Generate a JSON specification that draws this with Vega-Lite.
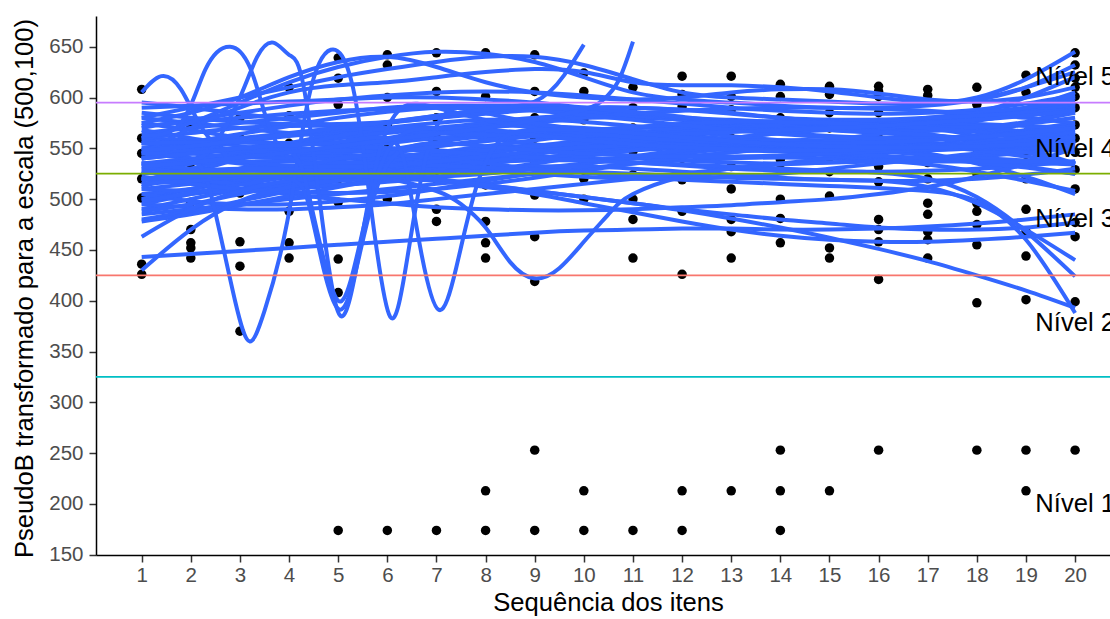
{
"$schema": "https://vega.github.io/schema/vega-lite/v6.json",
"width": 1014,
"height": 539,
"autosize": "none",
"padding": {"left": 96, "top": 16, "right": 0, "bottom": 64},
"background": "white",
"config": {"view": {"stroke": null}, "font": "Liberation Sans", "axis": {"grid": false}},
"datasets": {
"pts": [
{"x":1,"y":608},{"x":1,"y":501},{"x":1,"y":436},{"x":1,"y":426},{"x":1,"y":520},{"x":1,"y":545},{"x":1,"y":560},
{"x":2,"y":571},{"x":2,"y":497},{"x":2,"y":470},{"x":2,"y":457},{"x":2,"y":452},{"x":2,"y":442},{"x":2,"y":530},{"x":2,"y":550},
{"x":3,"y":506},{"x":3,"y":458},{"x":3,"y":434},{"x":3,"y":370},{"x":3,"y":540},{"x":3,"y":560},{"x":3,"y":580},
{"x":4,"y":610},{"x":4,"y":582},{"x":4,"y":488},{"x":4,"y":457},{"x":4,"y":442},{"x":4,"y":530},{"x":4,"y":555},
{"x":5,"y":639},{"x":5,"y":619},{"x":5,"y":593},{"x":5,"y":544},{"x":5,"y":497},{"x":5,"y":441},{"x":5,"y":408},{"x":5,"y":174},{"x":5,"y":520},{"x":5,"y":570},
{"x":6,"y":642},{"x":6,"y":632},{"x":6,"y":573},{"x":6,"y":174},{"x":6,"y":500},{"x":6,"y":530},{"x":6,"y":550},{"x":6,"y":600},
{"x":7,"y":644},{"x":7,"y":606},{"x":7,"y":580},{"x":7,"y":546},{"x":7,"y":490},{"x":7,"y":478},{"x":7,"y":174},{"x":7,"y":520},{"x":7,"y":560},
{"x":8,"y":644},{"x":8,"y":601},{"x":8,"y":571},{"x":8,"y":534},{"x":8,"y":514},{"x":8,"y":478},{"x":8,"y":457},{"x":8,"y":442},{"x":8,"y":213},{"x":8,"y":174},
{"x":9,"y":642},{"x":9,"y":606},{"x":9,"y":537},{"x":9,"y":504},{"x":9,"y":463},{"x":9,"y":419},{"x":9,"y":253},{"x":9,"y":174},{"x":9,"y":560},{"x":9,"y":580},
{"x":10,"y":624},{"x":10,"y":606},{"x":10,"y":578},{"x":10,"y":562},{"x":10,"y":541},{"x":10,"y":213},{"x":10,"y":174},{"x":10,"y":520},{"x":10,"y":500},
{"x":11,"y":610},{"x":11,"y":547},{"x":11,"y":524},{"x":11,"y":500},{"x":11,"y":480},{"x":11,"y":442},{"x":11,"y":174},{"x":11,"y":570},{"x":11,"y":590},
{"x":12,"y":621},{"x":12,"y":603},{"x":12,"y":591},{"x":12,"y":557},{"x":12,"y":519},{"x":12,"y":488},{"x":12,"y":426},{"x":12,"y":213},{"x":12,"y":174},{"x":12,"y":540},{"x":12,"y":570},
{"x":13,"y":621},{"x":13,"y":601},{"x":13,"y":588},{"x":13,"y":532},{"x":13,"y":480},{"x":13,"y":468},{"x":13,"y":442},{"x":13,"y":213},{"x":13,"y":510},{"x":13,"y":560},
{"x":14,"y":613},{"x":14,"y":601},{"x":14,"y":552},{"x":14,"y":539},{"x":14,"y":529},{"x":14,"y":500},{"x":14,"y":481},{"x":14,"y":457},{"x":14,"y":253},{"x":14,"y":213},{"x":14,"y":174},{"x":14,"y":580},
{"x":15,"y":611},{"x":15,"y":607},{"x":15,"y":603},{"x":15,"y":541},{"x":15,"y":527},{"x":15,"y":503},{"x":15,"y":452},{"x":15,"y":442},{"x":15,"y":213},{"x":15,"y":570},{"x":15,"y":585},
{"x":16,"y":611},{"x":16,"y":606},{"x":16,"y":601},{"x":16,"y":532},{"x":16,"y":517},{"x":16,"y":480},{"x":16,"y":470},{"x":16,"y":458},{"x":16,"y":421},{"x":16,"y":253},{"x":16,"y":560},{"x":16,"y":585},
{"x":17,"y":608},{"x":17,"y":602},{"x":17,"y":596},{"x":17,"y":536},{"x":17,"y":496},{"x":17,"y":485},{"x":17,"y":468},{"x":17,"y":460},{"x":17,"y":442},{"x":17,"y":520},{"x":17,"y":570},
{"x":18,"y":610},{"x":18,"y":593},{"x":18,"y":580},{"x":18,"y":544},{"x":18,"y":496},{"x":18,"y":488},{"x":18,"y":475},{"x":18,"y":455},{"x":18,"y":398},{"x":18,"y":253},{"x":18,"y":525},{"x":18,"y":560},
{"x":19,"y":622},{"x":19,"y":605},{"x":19,"y":565},{"x":19,"y":544},{"x":19,"y":490},{"x":19,"y":468},{"x":19,"y":444},{"x":19,"y":401},{"x":19,"y":253},{"x":19,"y":213},{"x":19,"y":520},{"x":19,"y":585},
{"x":20,"y":644},{"x":20,"y":632},{"x":20,"y":619},{"x":20,"y":610},{"x":20,"y":601},{"x":20,"y":590},{"x":20,"y":573},{"x":20,"y":546},{"x":20,"y":529},{"x":20,"y":477},{"x":20,"y":463},{"x":20,"y":399},{"x":20,"y":253},{"x":20,"y":560},{"x":20,"y":510}
],
"lines": [
{"g":"B1","x":1,"y":500},{"g":"B1","x":2,"y":510},{"g":"B1","x":3,"y":520},{"g":"B1","x":4,"y":530},{"g":"B1","x":5,"y":535},{"g":"B1","x":6,"y":540},{"g":"B1","x":7,"y":545},{"g":"B1","x":8,"y":548},{"g":"B1","x":9,"y":550},{"g":"B1","x":10,"y":552},{"g":"B1","x":11,"y":553},{"g":"B1","x":12,"y":553},{"g":"B1","x":13,"y":552},{"g":"B1","x":14,"y":550},{"g":"B1","x":15,"y":548},{"g":"B1","x":16,"y":547},{"g":"B1","x":17,"y":548},{"g":"B1","x":18,"y":552},{"g":"B1","x":19,"y":558},{"g":"B1","x":20,"y":565},
{"g":"B2","x":1,"y":520},{"g":"B2","x":2,"y":525},{"g":"B2","x":3,"y":530},{"g":"B2","x":4,"y":540},{"g":"B2","x":5,"y":548},{"g":"B2","x":6,"y":555},{"g":"B2","x":7,"y":560},{"g":"B2","x":8,"y":562},{"g":"B2","x":9,"y":563},{"g":"B2","x":10,"y":562},{"g":"B2","x":11,"y":560},{"g":"B2","x":12,"y":558},{"g":"B2","x":13,"y":556},{"g":"B2","x":14,"y":555},{"g":"B2","x":15,"y":555},{"g":"B2","x":16,"y":556},{"g":"B2","x":17,"y":558},{"g":"B2","x":18,"y":562},{"g":"B2","x":19,"y":568},{"g":"B2","x":20,"y":575},
{"g":"B3","x":1,"y":540},{"g":"B3","x":2,"y":545},{"g":"B3","x":3,"y":550},{"g":"B3","x":4,"y":555},{"g":"B3","x":5,"y":560},{"g":"B3","x":6,"y":565},{"g":"B3","x":7,"y":570},{"g":"B3","x":8,"y":575},{"g":"B3","x":9,"y":578},{"g":"B3","x":10,"y":580},{"g":"B3","x":11,"y":580},{"g":"B3","x":12,"y":578},{"g":"B3","x":13,"y":575},{"g":"B3","x":14,"y":572},{"g":"B3","x":15,"y":570},{"g":"B3","x":16,"y":570},{"g":"B3","x":17,"y":572},{"g":"B3","x":18,"y":578},{"g":"B3","x":19,"y":588},{"g":"B3","x":20,"y":600},
{"g":"B4","x":1,"y":560},{"g":"B4","x":2,"y":558},{"g":"B4","x":3,"y":556},{"g":"B4","x":4,"y":555},{"g":"B4","x":5,"y":556},{"g":"B4","x":6,"y":558},{"g":"B4","x":7,"y":560},{"g":"B4","x":8,"y":562},{"g":"B4","x":9,"y":565},{"g":"B4","x":10,"y":568},{"g":"B4","x":11,"y":570},{"g":"B4","x":12,"y":572},{"g":"B4","x":13,"y":573},{"g":"B4","x":14,"y":574},{"g":"B4","x":15,"y":575},{"g":"B4","x":16,"y":576},{"g":"B4","x":17,"y":578},{"g":"B4","x":18,"y":582},{"g":"B4","x":19,"y":590},{"g":"B4","x":20,"y":605},
{"g":"B5","x":1,"y":580},{"g":"B5","x":2,"y":575},{"g":"B5","x":3,"y":570},{"g":"B5","x":4,"y":565},{"g":"B5","x":5,"y":562},{"g":"B5","x":6,"y":560},{"g":"B5","x":7,"y":560},{"g":"B5","x":8,"y":562},{"g":"B5","x":9,"y":565},{"g":"B5","x":10,"y":568},{"g":"B5","x":11,"y":570},{"g":"B5","x":12,"y":570},{"g":"B5","x":13,"y":570},{"g":"B5","x":14,"y":570},{"g":"B5","x":15,"y":570},{"g":"B5","x":16,"y":572},{"g":"B5","x":17,"y":576},{"g":"B5","x":18,"y":585},{"g":"B5","x":19,"y":600},{"g":"B5","x":20,"y":620},
{"g":"B6","x":1,"y":490},{"g":"B6","x":2,"y":500},{"g":"B6","x":3,"y":510},{"g":"B6","x":4,"y":518},{"g":"B6","x":5,"y":525},{"g":"B6","x":6,"y":530},{"g":"B6","x":7,"y":535},{"g":"B6","x":8,"y":540},{"g":"B6","x":9,"y":545},{"g":"B6","x":10,"y":548},{"g":"B6","x":11,"y":550},{"g":"B6","x":12,"y":552},{"g":"B6","x":13,"y":553},{"g":"B6","x":14,"y":553},{"g":"B6","x":15,"y":552},{"g":"B6","x":16,"y":550},{"g":"B6","x":17,"y":545},{"g":"B6","x":18,"y":535},{"g":"B6","x":19,"y":522},{"g":"B6","x":20,"y":505},
{"g":"B7","x":1,"y":510},{"g":"B7","x":2,"y":515},{"g":"B7","x":3,"y":520},{"g":"B7","x":4,"y":525},{"g":"B7","x":5,"y":528},{"g":"B7","x":6,"y":530},{"g":"B7","x":7,"y":530},{"g":"B7","x":8,"y":528},{"g":"B7","x":9,"y":525},{"g":"B7","x":10,"y":522},{"g":"B7","x":11,"y":520},{"g":"B7","x":12,"y":520},{"g":"B7","x":13,"y":522},{"g":"B7","x":14,"y":525},{"g":"B7","x":15,"y":530},{"g":"B7","x":16,"y":535},{"g":"B7","x":17,"y":540},{"g":"B7","x":18,"y":545},{"g":"B7","x":19,"y":548},{"g":"B7","x":20,"y":550},
{"g":"B8","x":1,"y":530},{"g":"B8","x":2,"y":528},{"g":"B8","x":3,"y":525},{"g":"B8","x":4,"y":522},{"g":"B8","x":5,"y":520},{"g":"B8","x":6,"y":520},{"g":"B8","x":7,"y":522},{"g":"B8","x":8,"y":525},{"g":"B8","x":9,"y":530},{"g":"B8","x":10,"y":535},{"g":"B8","x":11,"y":540},{"g":"B8","x":12,"y":545},{"g":"B8","x":13,"y":550},{"g":"B8","x":14,"y":555},{"g":"B8","x":15,"y":558},{"g":"B8","x":16,"y":560},{"g":"B8","x":17,"y":560},{"g":"B8","x":18,"y":558},{"g":"B8","x":19,"y":554},{"g":"B8","x":20,"y":548},
{"g":"B9","x":1,"y":550},{"g":"B9","x":2,"y":555},{"g":"B9","x":3,"y":560},{"g":"B9","x":4,"y":565},{"g":"B9","x":5,"y":570},{"g":"B9","x":6,"y":575},{"g":"B9","x":7,"y":580},{"g":"B9","x":8,"y":585},{"g":"B9","x":9,"y":588},{"g":"B9","x":10,"y":590},{"g":"B9","x":11,"y":590},{"g":"B9","x":12,"y":588},{"g":"B9","x":13,"y":585},{"g":"B9","x":14,"y":580},{"g":"B9","x":15,"y":578},{"g":"B9","x":16,"y":576},{"g":"B9","x":17,"y":575},{"g":"B9","x":18,"y":574},{"g":"B9","x":19,"y":572},{"g":"B9","x":20,"y":570},
{"g":"B10","x":1,"y":570},{"g":"B10","x":2,"y":578},{"g":"B10","x":3,"y":585},{"g":"B10","x":4,"y":592},{"g":"B10","x":5,"y":598},{"g":"B10","x":6,"y":602},{"g":"B10","x":7,"y":605},{"g":"B10","x":8,"y":606},{"g":"B10","x":9,"y":605},{"g":"B10","x":10,"y":602},{"g":"B10","x":11,"y":598},{"g":"B10","x":12,"y":594},{"g":"B10","x":13,"y":590},{"g":"B10","x":14,"y":587},{"g":"B10","x":15,"y":585},{"g":"B10","x":16,"y":584},{"g":"B10","x":17,"y":585},{"g":"B10","x":18,"y":588},{"g":"B10","x":19,"y":594},{"g":"B10","x":20,"y":602},
{"g":"B11","x":1,"y":485},{"g":"B11","x":2,"y":490},{"g":"B11","x":3,"y":495},{"g":"B11","x":4,"y":500},{"g":"B11","x":5,"y":505},{"g":"B11","x":6,"y":510},{"g":"B11","x":7,"y":515},{"g":"B11","x":8,"y":520},{"g":"B11","x":9,"y":525},{"g":"B11","x":10,"y":530},{"g":"B11","x":11,"y":535},{"g":"B11","x":12,"y":538},{"g":"B11","x":13,"y":540},{"g":"B11","x":14,"y":541},{"g":"B11","x":15,"y":540},{"g":"B11","x":16,"y":538},{"g":"B11","x":17,"y":534},{"g":"B11","x":18,"y":527},{"g":"B11","x":19,"y":518},{"g":"B11","x":20,"y":508},
{"g":"B12","x":1,"y":495},{"g":"B12","x":2,"y":492},{"g":"B12","x":3,"y":490},{"g":"B12","x":4,"y":490},{"g":"B12","x":5,"y":492},{"g":"B12","x":6,"y":495},{"g":"B12","x":7,"y":500},{"g":"B12","x":8,"y":505},{"g":"B12","x":9,"y":510},{"g":"B12","x":10,"y":515},{"g":"B12","x":11,"y":520},{"g":"B12","x":12,"y":525},{"g":"B12","x":13,"y":530},{"g":"B12","x":14,"y":535},{"g":"B12","x":15,"y":540},{"g":"B12","x":16,"y":545},{"g":"B12","x":17,"y":552},{"g":"B12","x":18,"y":562},{"g":"B12","x":19,"y":575},{"g":"B12","x":20,"y":590},
{"g":"B13","x":1,"y":505},{"g":"B13","x":2,"y":510},{"g":"B13","x":3,"y":518},{"g":"B13","x":4,"y":528},{"g":"B13","x":5,"y":538},{"g":"B13","x":6,"y":548},{"g":"B13","x":7,"y":556},{"g":"B13","x":8,"y":562},{"g":"B13","x":9,"y":565},{"g":"B13","x":10,"y":565},{"g":"B13","x":11,"y":562},{"g":"B13","x":12,"y":558},{"g":"B13","x":13,"y":552},{"g":"B13","x":14,"y":547},{"g":"B13","x":15,"y":543},{"g":"B13","x":16,"y":540},{"g":"B13","x":17,"y":540},{"g":"B13","x":18,"y":542},{"g":"B13","x":19,"y":546},{"g":"B13","x":20,"y":552},
{"g":"B14","x":1,"y":525},{"g":"B14","x":2,"y":535},{"g":"B14","x":3,"y":545},{"g":"B14","x":4,"y":555},{"g":"B14","x":5,"y":565},{"g":"B14","x":6,"y":575},{"g":"B14","x":7,"y":582},{"g":"B14","x":8,"y":588},{"g":"B14","x":9,"y":590},{"g":"B14","x":10,"y":588},{"g":"B14","x":11,"y":584},{"g":"B14","x":12,"y":578},{"g":"B14","x":13,"y":572},{"g":"B14","x":14,"y":566},{"g":"B14","x":15,"y":562},{"g":"B14","x":16,"y":560},{"g":"B14","x":17,"y":560},{"g":"B14","x":18,"y":562},{"g":"B14","x":19,"y":565},{"g":"B14","x":20,"y":568},
{"g":"B15","x":1,"y":545},{"g":"B15","x":2,"y":540},{"g":"B15","x":3,"y":535},{"g":"B15","x":4,"y":530},{"g":"B15","x":5,"y":528},{"g":"B15","x":6,"y":528},{"g":"B15","x":7,"y":530},{"g":"B15","x":8,"y":535},{"g":"B15","x":9,"y":540},{"g":"B15","x":10,"y":545},{"g":"B15","x":11,"y":548},{"g":"B15","x":12,"y":550},{"g":"B15","x":13,"y":550},{"g":"B15","x":14,"y":548},{"g":"B15","x":15,"y":545},{"g":"B15","x":16,"y":542},{"g":"B15","x":17,"y":540},{"g":"B15","x":18,"y":538},{"g":"B15","x":19,"y":536},{"g":"B15","x":20,"y":534},
{"g":"B16","x":1,"y":565},{"g":"B16","x":2,"y":570},{"g":"B16","x":3,"y":575},{"g":"B16","x":4,"y":580},{"g":"B16","x":5,"y":585},{"g":"B16","x":6,"y":590},{"g":"B16","x":7,"y":592},{"g":"B16","x":8,"y":592},{"g":"B16","x":9,"y":590},{"g":"B16","x":10,"y":586},{"g":"B16","x":11,"y":582},{"g":"B16","x":12,"y":578},{"g":"B16","x":13,"y":575},{"g":"B16","x":14,"y":573},{"g":"B16","x":15,"y":572},{"g":"B16","x":16,"y":572},{"g":"B16","x":17,"y":574},{"g":"B16","x":18,"y":578},{"g":"B16","x":19,"y":584},{"g":"B16","x":20,"y":592},
{"g":"B17","x":1,"y":575},{"g":"B17","x":2,"y":568},{"g":"B17","x":3,"y":560},{"g":"B17","x":4,"y":552},{"g":"B17","x":5,"y":545},{"g":"B17","x":6,"y":540},{"g":"B17","x":7,"y":538},{"g":"B17","x":8,"y":538},{"g":"B17","x":9,"y":540},{"g":"B17","x":10,"y":545},{"g":"B17","x":11,"y":550},{"g":"B17","x":12,"y":555},{"g":"B17","x":13,"y":560},{"g":"B17","x":14,"y":565},{"g":"B17","x":15,"y":568},{"g":"B17","x":16,"y":570},{"g":"B17","x":17,"y":570},{"g":"B17","x":18,"y":568},{"g":"B17","x":19,"y":565},{"g":"B17","x":20,"y":560},
{"g":"B18","x":1,"y":515},{"g":"B18","x":2,"y":522},{"g":"B18","x":3,"y":530},{"g":"B18","x":4,"y":540},{"g":"B18","x":5,"y":550},{"g":"B18","x":6,"y":560},{"g":"B18","x":7,"y":568},{"g":"B18","x":8,"y":575},{"g":"B18","x":9,"y":580},{"g":"B18","x":10,"y":582},{"g":"B18","x":11,"y":582},{"g":"B18","x":12,"y":580},{"g":"B18","x":13,"y":576},{"g":"B18","x":14,"y":572},{"g":"B18","x":15,"y":568},{"g":"B18","x":16,"y":565},{"g":"B18","x":17,"y":562},{"g":"B18","x":18,"y":560},{"g":"B18","x":19,"y":558},{"g":"B18","x":20,"y":556},
{"g":"B19","x":1,"y":535},{"g":"B19","x":2,"y":540},{"g":"B19","x":3,"y":545},{"g":"B19","x":4,"y":548},{"g":"B19","x":5,"y":550},{"g":"B19","x":6,"y":550},{"g":"B19","x":7,"y":548},{"g":"B19","x":8,"y":545},{"g":"B19","x":9,"y":542},{"g":"B19","x":10,"y":540},{"g":"B19","x":11,"y":540},{"g":"B19","x":12,"y":542},{"g":"B19","x":13,"y":546},{"g":"B19","x":14,"y":552},{"g":"B19","x":15,"y":558},{"g":"B19","x":16,"y":564},{"g":"B19","x":17,"y":570},{"g":"B19","x":18,"y":577},{"g":"B19","x":19,"y":585},{"g":"B19","x":20,"y":595},
{"g":"B20","x":1,"y":555},{"g":"B20","x":2,"y":550},{"g":"B20","x":3,"y":545},{"g":"B20","x":4,"y":542},{"g":"B20","x":5,"y":540},{"g":"B20","x":6,"y":540},{"g":"B20","x":7,"y":542},{"g":"B20","x":8,"y":546},{"g":"B20","x":9,"y":552},{"g":"B20","x":10,"y":558},{"g":"B20","x":11,"y":564},{"g":"B20","x":12,"y":570},{"g":"B20","x":13,"y":574},{"g":"B20","x":14,"y":577},{"g":"B20","x":15,"y":578},{"g":"B20","x":16,"y":578},{"g":"B20","x":17,"y":576},{"g":"B20","x":18,"y":572},{"g":"B20","x":19,"y":566},{"g":"B20","x":20,"y":558},
{"g":"B21","x":1,"y":480},{"g":"B21","x":2,"y":488},{"g":"B21","x":3,"y":498},{"g":"B21","x":4,"y":508},{"g":"B21","x":5,"y":518},{"g":"B21","x":6,"y":526},{"g":"B21","x":7,"y":532},{"g":"B21","x":8,"y":536},{"g":"B21","x":9,"y":538},{"g":"B21","x":10,"y":538},{"g":"B21","x":11,"y":536},{"g":"B21","x":12,"y":533},{"g":"B21","x":13,"y":530},{"g":"B21","x":14,"y":528},{"g":"B21","x":15,"y":527},{"g":"B21","x":16,"y":527},{"g":"B21","x":17,"y":528},{"g":"B21","x":18,"y":530},{"g":"B21","x":19,"y":533},{"g":"B21","x":20,"y":537},
{"g":"B22","x":1,"y":590},{"g":"B22","x":2,"y":592},{"g":"B22","x":3,"y":594},{"g":"B22","x":4,"y":596},{"g":"B22","x":5,"y":598},{"g":"B22","x":6,"y":600},{"g":"B22","x":7,"y":600},{"g":"B22","x":8,"y":598},{"g":"B22","x":9,"y":595},{"g":"B22","x":10,"y":590},{"g":"B22","x":11,"y":585},{"g":"B22","x":12,"y":580},{"g":"B22","x":13,"y":578},{"g":"B22","x":14,"y":576},{"g":"B22","x":15,"y":575},{"g":"B22","x":16,"y":575},{"g":"B22","x":17,"y":576},{"g":"B22","x":18,"y":580},{"g":"B22","x":19,"y":586},{"g":"B22","x":20,"y":594},
{"g":"B23","x":1,"y":500},{"g":"B23","x":2,"y":505},{"g":"B23","x":3,"y":510},{"g":"B23","x":4,"y":515},{"g":"B23","x":5,"y":520},{"g":"B23","x":6,"y":525},{"g":"B23","x":7,"y":530},{"g":"B23","x":8,"y":535},{"g":"B23","x":9,"y":540},{"g":"B23","x":10,"y":545},{"g":"B23","x":11,"y":550},{"g":"B23","x":12,"y":555},{"g":"B23","x":13,"y":560},{"g":"B23","x":14,"y":565},{"g":"B23","x":15,"y":570},{"g":"B23","x":16,"y":575},{"g":"B23","x":17,"y":580},{"g":"B23","x":18,"y":585},{"g":"B23","x":19,"y":590},{"g":"B23","x":20,"y":596},
{"g":"B24","x":1,"y":520},{"g":"B24","x":2,"y":515},{"g":"B24","x":3,"y":510},{"g":"B24","x":4,"y":505},{"g":"B24","x":5,"y":500},{"g":"B24","x":6,"y":496},{"g":"B24","x":7,"y":492},{"g":"B24","x":8,"y":490},{"g":"B24","x":9,"y":489},{"g":"B24","x":10,"y":489},{"g":"B24","x":11,"y":490},{"g":"B24","x":12,"y":492},{"g":"B24","x":13,"y":494},{"g":"B24","x":14,"y":497},{"g":"B24","x":15,"y":500},{"g":"B24","x":16,"y":505},{"g":"B24","x":17,"y":512},{"g":"B24","x":18,"y":522},{"g":"B24","x":19,"y":535},{"g":"B24","x":20,"y":550},
{"g":"B25","x":1,"y":540},{"g":"B25","x":2,"y":548},{"g":"B25","x":3,"y":556},{"g":"B25","x":4,"y":562},{"g":"B25","x":5,"y":566},{"g":"B25","x":6,"y":568},{"g":"B25","x":7,"y":568},{"g":"B25","x":8,"y":566},{"g":"B25","x":9,"y":562},{"g":"B25","x":10,"y":558},{"g":"B25","x":11,"y":554},{"g":"B25","x":12,"y":550},{"g":"B25","x":13,"y":548},{"g":"B25","x":14,"y":547},{"g":"B25","x":15,"y":547},{"g":"B25","x":16,"y":548},{"g":"B25","x":17,"y":550},{"g":"B25","x":18,"y":552},{"g":"B25","x":19,"y":554},{"g":"B25","x":20,"y":556},
{"g":"B26","x":1,"y":560},{"g":"B26","x":2,"y":565},{"g":"B26","x":3,"y":570},{"g":"B26","x":4,"y":572},{"g":"B26","x":5,"y":572},{"g":"B26","x":6,"y":570},{"g":"B26","x":7,"y":566},{"g":"B26","x":8,"y":560},{"g":"B26","x":9,"y":554},{"g":"B26","x":10,"y":548},{"g":"B26","x":11,"y":542},{"g":"B26","x":12,"y":538},{"g":"B26","x":13,"y":536},{"g":"B26","x":14,"y":535},{"g":"B26","x":15,"y":536},{"g":"B26","x":16,"y":538},{"g":"B26","x":17,"y":540},{"g":"B26","x":18,"y":540},{"g":"B26","x":19,"y":538},{"g":"B26","x":20,"y":534},
{"g":"B27","x":1,"y":495},{"g":"B27","x":2,"y":505},{"g":"B27","x":3,"y":515},{"g":"B27","x":4,"y":525},{"g":"B27","x":5,"y":533},{"g":"B27","x":6,"y":540},{"g":"B27","x":7,"y":546},{"g":"B27","x":8,"y":550},{"g":"B27","x":9,"y":553},{"g":"B27","x":10,"y":555},{"g":"B27","x":11,"y":556},{"g":"B27","x":12,"y":556},{"g":"B27","x":13,"y":555},{"g":"B27","x":14,"y":553},{"g":"B27","x":15,"y":550},{"g":"B27","x":16,"y":547},{"g":"B27","x":17,"y":543},{"g":"B27","x":18,"y":538},{"g":"B27","x":19,"y":532},{"g":"B27","x":20,"y":525},
{"g":"B28","x":1,"y":510},{"g":"B28","x":2,"y":508},{"g":"B28","x":3,"y":508},{"g":"B28","x":4,"y":510},{"g":"B28","x":5,"y":514},{"g":"B28","x":6,"y":520},{"g":"B28","x":7,"y":528},{"g":"B28","x":8,"y":536},{"g":"B28","x":9,"y":544},{"g":"B28","x":10,"y":552},{"g":"B28","x":11,"y":560},{"g":"B28","x":12,"y":566},{"g":"B28","x":13,"y":571},{"g":"B28","x":14,"y":574},{"g":"B28","x":15,"y":575},{"g":"B28","x":16,"y":574},{"g":"B28","x":17,"y":570},{"g":"B28","x":18,"y":562},{"g":"B28","x":19,"y":550},{"g":"B28","x":20,"y":535},
{"g":"B29","x":1,"y":530},{"g":"B29","x":2,"y":535},{"g":"B29","x":3,"y":540},{"g":"B29","x":4,"y":546},{"g":"B29","x":5,"y":552},{"g":"B29","x":6,"y":558},{"g":"B29","x":7,"y":564},{"g":"B29","x":8,"y":570},{"g":"B29","x":9,"y":575},{"g":"B29","x":10,"y":580},{"g":"B29","x":11,"y":584},{"g":"B29","x":12,"y":587},{"g":"B29","x":13,"y":589},{"g":"B29","x":14,"y":590},{"g":"B29","x":15,"y":590},{"g":"B29","x":16,"y":589},{"g":"B29","x":17,"y":587},{"g":"B29","x":18,"y":584},{"g":"B29","x":19,"y":580},{"g":"B29","x":20,"y":575},
{"g":"B30","x":1,"y":550},{"g":"B30","x":2,"y":545},{"g":"B30","x":3,"y":542},{"g":"B30","x":4,"y":540},{"g":"B30","x":5,"y":540},{"g":"B30","x":6,"y":542},{"g":"B30","x":7,"y":546},{"g":"B30","x":8,"y":552},{"g":"B30","x":9,"y":558},{"g":"B30","x":10,"y":564},{"g":"B30","x":11,"y":570},{"g":"B30","x":12,"y":574},{"g":"B30","x":13,"y":576},{"g":"B30","x":14,"y":576},{"g":"B30","x":15,"y":574},{"g":"B30","x":16,"y":570},{"g":"B30","x":17,"y":564},{"g":"B30","x":18,"y":556},{"g":"B30","x":19,"y":546},{"g":"B30","x":20,"y":535},
{"g":"C1","x":1,"y":488},{"g":"C1","x":2,"y":495},{"g":"C1","x":3,"y":505},{"g":"C1","x":4,"y":515},{"g":"C1","x":5,"y":525},{"g":"C1","x":6,"y":535},{"g":"C1","x":7,"y":542},{"g":"C1","x":8,"y":548},{"g":"C1","x":9,"y":552},{"g":"C1","x":10,"y":554},{"g":"C1","x":11,"y":555},{"g":"C1","x":12,"y":554},{"g":"C1","x":13,"y":552},{"g":"C1","x":14,"y":549},{"g":"C1","x":15,"y":546},{"g":"C1","x":16,"y":543},{"g":"C1","x":17,"y":540},{"g":"C1","x":18,"y":536},{"g":"C1","x":19,"y":531},{"g":"C1","x":20,"y":525},
{"g":"C2","x":1,"y":505},{"g":"C2","x":2,"y":498},{"g":"C2","x":3,"y":495},{"g":"C2","x":4,"y":495},{"g":"C2","x":5,"y":498},{"g":"C2","x":6,"y":503},{"g":"C2","x":7,"y":510},{"g":"C2","x":8,"y":518},{"g":"C2","x":9,"y":526},{"g":"C2","x":10,"y":534},{"g":"C2","x":11,"y":542},{"g":"C2","x":12,"y":548},{"g":"C2","x":13,"y":552},{"g":"C2","x":14,"y":555},{"g":"C2","x":15,"y":556},{"g":"C2","x":16,"y":556},{"g":"C2","x":17,"y":555},{"g":"C2","x":18,"y":553},{"g":"C2","x":19,"y":550},{"g":"C2","x":20,"y":546},
{"g":"C3","x":1,"y":518},{"g":"C3","x":2,"y":530},{"g":"C3","x":3,"y":542},{"g":"C3","x":4,"y":552},{"g":"C3","x":5,"y":560},{"g":"C3","x":6,"y":566},{"g":"C3","x":7,"y":570},{"g":"C3","x":8,"y":572},{"g":"C3","x":9,"y":572},{"g":"C3","x":10,"y":570},{"g":"C3","x":11,"y":567},{"g":"C3","x":12,"y":563},{"g":"C3","x":13,"y":559},{"g":"C3","x":14,"y":556},{"g":"C3","x":15,"y":554},{"g":"C3","x":16,"y":553},{"g":"C3","x":17,"y":553},{"g":"C3","x":18,"y":555},{"g":"C3","x":19,"y":559},{"g":"C3","x":20,"y":565},
{"g":"C4","x":1,"y":528},{"g":"C4","x":2,"y":520},{"g":"C4","x":3,"y":515},{"g":"C4","x":4,"y":513},{"g":"C4","x":5,"y":514},{"g":"C4","x":6,"y":517},{"g":"C4","x":7,"y":522},{"g":"C4","x":8,"y":528},{"g":"C4","x":9,"y":535},{"g":"C4","x":10,"y":542},{"g":"C4","x":11,"y":548},{"g":"C4","x":12,"y":553},{"g":"C4","x":13,"y":556},{"g":"C4","x":14,"y":558},{"g":"C4","x":15,"y":558},{"g":"C4","x":16,"y":556},{"g":"C4","x":17,"y":553},{"g":"C4","x":18,"y":548},{"g":"C4","x":19,"y":542},{"g":"C4","x":20,"y":535},
{"g":"C5","x":1,"y":548},{"g":"C5","x":2,"y":556},{"g":"C5","x":3,"y":564},{"g":"C5","x":4,"y":572},{"g":"C5","x":5,"y":580},{"g":"C5","x":6,"y":586},{"g":"C5","x":7,"y":590},{"g":"C5","x":8,"y":592},{"g":"C5","x":9,"y":592},{"g":"C5","x":10,"y":590},{"g":"C5","x":11,"y":586},{"g":"C5","x":12,"y":581},{"g":"C5","x":13,"y":576},{"g":"C5","x":14,"y":572},{"g":"C5","x":15,"y":569},{"g":"C5","x":16,"y":567},{"g":"C5","x":17,"y":567},{"g":"C5","x":18,"y":570},{"g":"C5","x":19,"y":576},{"g":"C5","x":20,"y":585},
{"g":"C6","x":1,"y":568},{"g":"C6","x":2,"y":560},{"g":"C6","x":3,"y":552},{"g":"C6","x":4,"y":546},{"g":"C6","x":5,"y":542},{"g":"C6","x":6,"y":540},{"g":"C6","x":7,"y":540},{"g":"C6","x":8,"y":542},{"g":"C6","x":9,"y":546},{"g":"C6","x":10,"y":552},{"g":"C6","x":11,"y":558},{"g":"C6","x":12,"y":564},{"g":"C6","x":13,"y":569},{"g":"C6","x":14,"y":573},{"g":"C6","x":15,"y":576},{"g":"C6","x":16,"y":578},{"g":"C6","x":17,"y":580},{"g":"C6","x":18,"y":582},{"g":"C6","x":19,"y":585},{"g":"C6","x":20,"y":588},
{"g":"C7","x":1,"y":585},{"g":"C7","x":2,"y":580},{"g":"C7","x":3,"y":576},{"g":"C7","x":4,"y":574},{"g":"C7","x":5,"y":574},{"g":"C7","x":6,"y":576},{"g":"C7","x":7,"y":580},{"g":"C7","x":8,"y":584},{"g":"C7","x":9,"y":588},{"g":"C7","x":10,"y":590},{"g":"C7","x":11,"y":590},{"g":"C7","x":12,"y":588},{"g":"C7","x":13,"y":584},{"g":"C7","x":14,"y":580},{"g":"C7","x":15,"y":576},{"g":"C7","x":16,"y":573},{"g":"C7","x":17,"y":571},{"g":"C7","x":18,"y":571},{"g":"C7","x":19,"y":574},{"g":"C7","x":20,"y":580},
{"g":"C8","x":1,"y":478},{"g":"C8","x":2,"y":485},{"g":"C8","x":3,"y":494},{"g":"C8","x":4,"y":503},{"g":"C8","x":5,"y":512},{"g":"C8","x":6,"y":520},{"g":"C8","x":7,"y":526},{"g":"C8","x":8,"y":530},{"g":"C8","x":9,"y":532},{"g":"C8","x":10,"y":532},{"g":"C8","x":11,"y":530},{"g":"C8","x":12,"y":527},{"g":"C8","x":13,"y":524},{"g":"C8","x":14,"y":521},{"g":"C8","x":15,"y":519},{"g":"C8","x":16,"y":518},{"g":"C8","x":17,"y":518},{"g":"C8","x":18,"y":520},{"g":"C8","x":19,"y":524},{"g":"C8","x":20,"y":530},
{"g":"C9","x":1,"y":512},{"g":"C9","x":2,"y":526},{"g":"C9","x":3,"y":540},{"g":"C9","x":4,"y":552},{"g":"C9","x":5,"y":562},{"g":"C9","x":6,"y":570},{"g":"C9","x":7,"y":575},{"g":"C9","x":8,"y":578},{"g":"C9","x":9,"y":578},{"g":"C9","x":10,"y":576},{"g":"C9","x":11,"y":572},{"g":"C9","x":12,"y":567},{"g":"C9","x":13,"y":562},{"g":"C9","x":14,"y":558},{"g":"C9","x":15,"y":555},{"g":"C9","x":16,"y":553},{"g":"C9","x":17,"y":552},{"g":"C9","x":18,"y":552},{"g":"C9","x":19,"y":553},{"g":"C9","x":20,"y":555},
{"g":"C10","x":1,"y":535},{"g":"C10","x":2,"y":530},{"g":"C10","x":3,"y":528},{"g":"C10","x":4,"y":528},{"g":"C10","x":5,"y":530},{"g":"C10","x":6,"y":534},{"g":"C10","x":7,"y":539},{"g":"C10","x":8,"y":545},{"g":"C10","x":9,"y":551},{"g":"C10","x":10,"y":557},{"g":"C10","x":11,"y":562},{"g":"C10","x":12,"y":566},{"g":"C10","x":13,"y":568},{"g":"C10","x":14,"y":569},{"g":"C10","x":15,"y":568},{"g":"C10","x":16,"y":566},{"g":"C10","x":17,"y":563},{"g":"C10","x":18,"y":559},{"g":"C10","x":19,"y":554},{"g":"C10","x":20,"y":548},
{"g":"C11","x":1,"y":558},{"g":"C11","x":2,"y":552},{"g":"C11","x":3,"y":548},{"g":"C11","x":4,"y":546},{"g":"C11","x":5,"y":546},{"g":"C11","x":6,"y":548},{"g":"C11","x":7,"y":552},{"g":"C11","x":8,"y":557},{"g":"C11","x":9,"y":562},{"g":"C11","x":10,"y":567},{"g":"C11","x":11,"y":571},{"g":"C11","x":12,"y":574},{"g":"C11","x":13,"y":576},{"g":"C11","x":14,"y":576},{"g":"C11","x":15,"y":575},{"g":"C11","x":16,"y":573},{"g":"C11","x":17,"y":570},{"g":"C11","x":18,"y":566},{"g":"C11","x":19,"y":561},{"g":"C11","x":20,"y":555},
{"g":"C12","x":1,"y":498},{"g":"C12","x":2,"y":506},{"g":"C12","x":3,"y":514},{"g":"C12","x":4,"y":522},{"g":"C12","x":5,"y":530},{"g":"C12","x":6,"y":537},{"g":"C12","x":7,"y":543},{"g":"C12","x":8,"y":548},{"g":"C12","x":9,"y":552},{"g":"C12","x":10,"y":555},{"g":"C12","x":11,"y":557},{"g":"C12","x":12,"y":558},{"g":"C12","x":13,"y":558},{"g":"C12","x":14,"y":557},{"g":"C12","x":15,"y":555},{"g":"C12","x":16,"y":553},{"g":"C12","x":17,"y":551},{"g":"C12","x":18,"y":550},{"g":"C12","x":19,"y":550},{"g":"C12","x":20,"y":551},
{"g":"C13","x":1,"y":572},{"g":"C13","x":2,"y":576},{"g":"C13","x":3,"y":580},{"g":"C13","x":4,"y":584},{"g":"C13","x":5,"y":587},{"g":"C13","x":6,"y":589},{"g":"C13","x":7,"y":590},{"g":"C13","x":8,"y":589},{"g":"C13","x":9,"y":587},{"g":"C13","x":10,"y":583},{"g":"C13","x":11,"y":578},{"g":"C13","x":12,"y":573},{"g":"C13","x":13,"y":568},{"g":"C13","x":14,"y":564},{"g":"C13","x":15,"y":561},{"g":"C13","x":16,"y":560},{"g":"C13","x":17,"y":560},{"g":"C13","x":18,"y":562},{"g":"C13","x":19,"y":566},{"g":"C13","x":20,"y":572},
{"g":"C14","x":1,"y":540},{"g":"C14","x":2,"y":550},{"g":"C14","x":3,"y":558},{"g":"C14","x":4,"y":564},{"g":"C14","x":5,"y":568},{"g":"C14","x":6,"y":570},{"g":"C14","x":7,"y":570},{"g":"C14","x":8,"y":568},{"g":"C14","x":9,"y":565},{"g":"C14","x":10,"y":561},{"g":"C14","x":11,"y":557},{"g":"C14","x":12,"y":553},{"g":"C14","x":13,"y":550},{"g":"C14","x":14,"y":548},{"g":"C14","x":15,"y":547},{"g":"C14","x":16,"y":547},{"g":"C14","x":17,"y":548},{"g":"C14","x":18,"y":550},{"g":"C14","x":19,"y":553},{"g":"C14","x":20,"y":557},
{"g":"C15","x":1,"y":522},{"g":"C15","x":2,"y":515},{"g":"C15","x":3,"y":510},{"g":"C15","x":4,"y":507},{"g":"C15","x":5,"y":506},{"g":"C15","x":6,"y":507},{"g":"C15","x":7,"y":510},{"g":"C15","x":8,"y":515},{"g":"C15","x":9,"y":521},{"g":"C15","x":10,"y":528},{"g":"C15","x":11,"y":535},{"g":"C15","x":12,"y":541},{"g":"C15","x":13,"y":546},{"g":"C15","x":14,"y":550},{"g":"C15","x":15,"y":553},{"g":"C15","x":16,"y":554},{"g":"C15","x":17,"y":554},{"g":"C15","x":18,"y":553},{"g":"C15","x":19,"y":551},{"g":"C15","x":20,"y":548},
{"g":"C16","x":1,"y":595},{"g":"C16","x":2,"y":590},{"g":"C16","x":3,"y":584},{"g":"C16","x":4,"y":578},{"g":"C16","x":5,"y":572},{"g":"C16","x":6,"y":568},{"g":"C16","x":7,"y":565},{"g":"C16","x":8,"y":563},{"g":"C16","x":9,"y":562},{"g":"C16","x":10,"y":562},{"g":"C16","x":11,"y":563},{"g":"C16","x":12,"y":564},{"g":"C16","x":13,"y":566},{"g":"C16","x":14,"y":568},{"g":"C16","x":15,"y":570},{"g":"C16","x":16,"y":572},{"g":"C16","x":17,"y":575},{"g":"C16","x":18,"y":578},{"g":"C16","x":19,"y":582},{"g":"C16","x":20,"y":587},
{"g":"T1","x":1,"y":560},{"g":"T1","x":2,"y":575},{"g":"T1","x":3,"y":595},{"g":"T1","x":4,"y":615},{"g":"T1","x":5,"y":630},{"g":"T1","x":6,"y":640},{"g":"T1","x":7,"y":645},{"g":"T1","x":8,"y":643},{"g":"T1","x":9,"y":635},{"g":"T1","x":10,"y":620},{"g":"T1","x":11,"y":605},{"g":"T1","x":12,"y":598},{"g":"T1","x":13,"y":595},{"g":"T1","x":14,"y":592},{"g":"T1","x":15,"y":590},{"g":"T1","x":16,"y":590},{"g":"T1","x":17,"y":592},{"g":"T1","x":18,"y":598},{"g":"T1","x":19,"y":610},{"g":"T1","x":20,"y":625},
{"g":"T2","x":1,"y":580},{"g":"T2","x":2,"y":590},{"g":"T2","x":3,"y":600},{"g":"T2","x":4,"y":610},{"g":"T2","x":5,"y":620},{"g":"T2","x":6,"y":628},{"g":"T2","x":7,"y":635},{"g":"T2","x":8,"y":640},{"g":"T2","x":9,"y":640},{"g":"T2","x":10,"y":632},{"g":"T2","x":11,"y":618},{"g":"T2","x":12,"y":605},{"g":"T2","x":13,"y":600},{"g":"T2","x":14,"y":598},{"g":"T2","x":15,"y":596},{"g":"T2","x":16,"y":594},{"g":"T2","x":17,"y":594},{"g":"T2","x":18,"y":600},{"g":"T2","x":19,"y":618},{"g":"T2","x":20,"y":645},
{"g":"T3","x":1,"y":575},{"g":"T3","x":2,"y":585},{"g":"T3","x":3,"y":600},{"g":"T3","x":4,"y":620},{"g":"T3","x":5,"y":635},{"g":"T3","x":6,"y":640},{"g":"T3","x":7,"y":630},{"g":"T3","x":8,"y":615},{"g":"T3","x":9,"y":605},{"g":"T3","x":10,"y":600},{"g":"T3","x":11,"y":598},{"g":"T3","x":12,"y":600},{"g":"T3","x":13,"y":605},{"g":"T3","x":14,"y":608},{"g":"T3","x":15,"y":608},{"g":"T3","x":16,"y":604},{"g":"T3","x":17,"y":598},{"g":"T3","x":18,"y":596},{"g":"T3","x":19,"y":600},{"g":"T3","x":20,"y":610},
{"g":"T4","x":1,"y":545},{"g":"T4","x":2,"y":570},{"g":"T4","x":3,"y":590},{"g":"T4","x":4,"y":605},{"g":"T4","x":5,"y":612},{"g":"T4","x":6,"y":615},{"g":"T4","x":7,"y":620},{"g":"T4","x":8,"y":625},{"g":"T4","x":9,"y":628},{"g":"T4","x":10,"y":625},{"g":"T4","x":11,"y":615},{"g":"T4","x":12,"y":612},{"g":"T4","x":13,"y":612},{"g":"T4","x":14,"y":610},{"g":"T4","x":15,"y":606},{"g":"T4","x":16,"y":600},{"g":"T4","x":17,"y":596},{"g":"T4","x":18,"y":598},{"g":"T4","x":19,"y":610},{"g":"T4","x":20,"y":632},
{"g":"L1","x":1,"y":443},{"g":"L1","x":2,"y":446},{"g":"L1","x":3,"y":449},{"g":"L1","x":4,"y":452},{"g":"L1","x":5,"y":455},{"g":"L1","x":6,"y":458},{"g":"L1","x":7,"y":461},{"g":"L1","x":8,"y":464},{"g":"L1","x":9,"y":467},{"g":"L1","x":10,"y":469},{"g":"L1","x":11,"y":470},{"g":"L1","x":12,"y":471},{"g":"L1","x":13,"y":471},{"g":"L1","x":14,"y":470},{"g":"L1","x":15,"y":470},{"g":"L1","x":16,"y":471},{"g":"L1","x":17,"y":473},{"g":"L1","x":18,"y":476},{"g":"L1","x":19,"y":480},{"g":"L1","x":20,"y":485},
{"g":"L2","x":1,"y":430},{"g":"L2","x":2,"y":470},{"g":"L2","x":3,"y":498},{"g":"L2","x":4,"y":512},{"g":"L2","x":5,"y":518},{"g":"L2","x":6,"y":520},{"g":"L2","x":7,"y":518},{"g":"L2","x":8,"y":514},{"g":"L2","x":9,"y":508},{"g":"L2","x":10,"y":502},{"g":"L2","x":11,"y":496},{"g":"L2","x":12,"y":490},{"g":"L2","x":13,"y":485},{"g":"L2","x":14,"y":480},{"g":"L2","x":15,"y":476},{"g":"L2","x":16,"y":472},{"g":"L2","x":17,"y":470},{"g":"L2","x":18,"y":470},{"g":"L2","x":19,"y":472},{"g":"L2","x":20,"y":477},
{"g":"L3","x":1,"y":463},{"g":"L3","x":2,"y":490},{"g":"L3","x":3,"y":508},{"g":"L3","x":4,"y":518},{"g":"L3","x":5,"y":522},{"g":"L3","x":6,"y":522},{"g":"L3","x":7,"y":518},{"g":"L3","x":8,"y":512},{"g":"L3","x":9,"y":505},{"g":"L3","x":10,"y":496},{"g":"L3","x":11,"y":487},{"g":"L3","x":12,"y":478},{"g":"L3","x":13,"y":470},{"g":"L3","x":14,"y":464},{"g":"L3","x":15,"y":460},{"g":"L3","x":16,"y":458},{"g":"L3","x":17,"y":458},{"g":"L3","x":18,"y":460},{"g":"L3","x":19,"y":463},{"g":"L3","x":20,"y":467},
{"g":"L4","x":1,"y":525},{"g":"L4","x":2,"y":528},{"g":"L4","x":3,"y":530},{"g":"L4","x":4,"y":530},{"g":"L4","x":5,"y":528},{"g":"L4","x":6,"y":525},{"g":"L4","x":7,"y":520},{"g":"L4","x":8,"y":514},{"g":"L4","x":9,"y":508},{"g":"L4","x":10,"y":502},{"g":"L4","x":11,"y":496},{"g":"L4","x":12,"y":489},{"g":"L4","x":13,"y":481},{"g":"L4","x":14,"y":472},{"g":"L4","x":15,"y":462},{"g":"L4","x":16,"y":451},{"g":"L4","x":17,"y":439},{"g":"L4","x":18,"y":425},{"g":"L4","x":19,"y":410},{"g":"L4","x":20,"y":393},
{"g":"L5","x":1,"y":545},{"g":"L5","x":2,"y":548},{"g":"L5","x":3,"y":550},{"g":"L5","x":4,"y":550},{"g":"L5","x":5,"y":548},{"g":"L5","x":6,"y":545},{"g":"L5","x":7,"y":540},{"g":"L5","x":8,"y":535},{"g":"L5","x":9,"y":530},{"g":"L5","x":10,"y":526},{"g":"L5","x":11,"y":522},{"g":"L5","x":12,"y":519},{"g":"L5","x":13,"y":517},{"g":"L5","x":14,"y":515},{"g":"L5","x":15,"y":513},{"g":"L5","x":16,"y":511},{"g":"L5","x":17,"y":508},{"g":"L5","x":18,"y":498},{"g":"L5","x":19,"y":460},{"g":"L5","x":20,"y":388},
{"g":"L6","x":1,"y":555},{"g":"L6","x":2,"y":556},{"g":"L6","x":3,"y":556},{"g":"L6","x":4,"y":555},{"g":"L6","x":5,"y":553},{"g":"L6","x":6,"y":550},{"g":"L6","x":7,"y":547},{"g":"L6","x":8,"y":544},{"g":"L6","x":9,"y":541},{"g":"L6","x":10,"y":538},{"g":"L6","x":11,"y":536},{"g":"L6","x":12,"y":534},{"g":"L6","x":13,"y":532},{"g":"L6","x":14,"y":530},{"g":"L6","x":15,"y":528},{"g":"L6","x":16,"y":526},{"g":"L6","x":17,"y":520},{"g":"L6","x":18,"y":502},{"g":"L6","x":19,"y":468},{"g":"L6","x":20,"y":424},
{"g":"L7","x":1,"y":535},{"g":"L7","x":2,"y":536},{"g":"L7","x":3,"y":537},{"g":"L7","x":4,"y":537},{"g":"L7","x":5,"y":536},{"g":"L7","x":6,"y":535},{"g":"L7","x":7,"y":533},{"g":"L7","x":8,"y":531},{"g":"L7","x":9,"y":529},{"g":"L7","x":10,"y":527},{"g":"L7","x":11,"y":525},{"g":"L7","x":12,"y":523},{"g":"L7","x":13,"y":521},{"g":"L7","x":14,"y":520},{"g":"L7","x":15,"y":519},{"g":"L7","x":16,"y":518},{"g":"L7","x":17,"y":512},{"g":"L7","x":18,"y":496},{"g":"L7","x":19,"y":470},{"g":"L7","x":20,"y":440},
{"g":"A1","x":1,"y":605},{"g":"A1","x":1.4,"y":621},{"g":"A1","x":1.8,"y":608},{"g":"A1","x":2.2,"y":572},{"g":"A1","x":2.6,"y":548},{"g":"A1","x":3,"y":538},{"g":"A1","x":4,"y":533},{"g":"A1","x":5,"y":532},{"g":"A1","x":6,"y":533},{"g":"A1","x":7,"y":537},{"g":"A1","x":8,"y":542},{"g":"A1","x":9,"y":547},{"g":"A1","x":10,"y":551},{"g":"A1","x":11,"y":553},{"g":"A1","x":12,"y":554},{"g":"A1","x":13,"y":554},{"g":"A1","x":14,"y":553},{"g":"A1","x":15,"y":552},{"g":"A1","x":16,"y":552},{"g":"A1","x":17,"y":553},{"g":"A1","x":18,"y":556},{"g":"A1","x":19,"y":560},{"g":"A1","x":20,"y":566},
{"g":"O1","x":1,"y":545},{"g":"O1","x":2,"y":540},{"g":"O1","x":2.45,"y":497},{"g":"O1","x":2.9,"y":400},{"g":"O1","x":3.2,"y":360},{"g":"O1","x":3.5,"y":390},{"g":"O1","x":3.96,"y":477},{"g":"O1","x":4.4,"y":600},{"g":"O1","x":4.85,"y":647},{"g":"O1","x":5.3,"y":610},{"g":"O1","x":5.7,"y":480},{"g":"O1","x":6.06,"y":384},{"g":"O1","x":6.4,"y":440},{"g":"O1","x":6.9,"y":560},{"g":"O1","x":7.5,"y":590},{"g":"O1","x":8,"y":585},{"g":"O1","x":9,"y":575},{"g":"O1","x":10,"y":568},{"g":"O1","x":11,"y":562},{"g":"O1","x":12,"y":558},{"g":"O1","x":13,"y":555},{"g":"O1","x":14,"y":553},{"g":"O1","x":15,"y":552},{"g":"O1","x":16,"y":552},{"g":"O1","x":17,"y":553},{"g":"O1","x":18,"y":555},{"g":"O1","x":19,"y":558},{"g":"O1","x":20,"y":562},
{"g":"O2","x":1,"y":562},{"g":"O2","x":1.8,"y":575},{"g":"O2","x":2.3,"y":628},{"g":"O2","x":2.8,"y":650},{"g":"O2","x":3.2,"y":630},{"g":"O2","x":3.5,"y":585},{"g":"O2","x":3.9,"y":545},{"g":"O2","x":4.5,"y":535},{"g":"O2","x":5,"y":540},{"g":"O2","x":6,"y":545},{"g":"O2","x":7,"y":552},{"g":"O2","x":8,"y":558},{"g":"O2","x":9,"y":562},{"g":"O2","x":10,"y":563},{"g":"O2","x":11,"y":562},{"g":"O2","x":12,"y":560},{"g":"O2","x":13,"y":557},{"g":"O2","x":14,"y":554},{"g":"O2","x":15,"y":552},{"g":"O2","x":16,"y":551},{"g":"O2","x":17,"y":552},{"g":"O2","x":18,"y":556},{"g":"O2","x":19,"y":562},{"g":"O2","x":20,"y":570},
{"g":"O3","x":1,"y":535},{"g":"O3","x":2,"y":538},{"g":"O3","x":2.5,"y":555},{"g":"O3","x":3,"y":600},{"g":"O3","x":3.35,"y":640},{"g":"O3","x":3.68,"y":654},{"g":"O3","x":4,"y":642},{"g":"O3","x":4.3,"y":610},{"g":"O3","x":4.7,"y":470},{"g":"O3","x":5.05,"y":385},{"g":"O3","x":5.4,"y":440},{"g":"O3","x":5.8,"y":540},{"g":"O3","x":6.3,"y":590},{"g":"O3","x":7,"y":590},{"g":"O3","x":8,"y":578},{"g":"O3","x":9,"y":570},{"g":"O3","x":10,"y":565},{"g":"O3","x":11,"y":561},{"g":"O3","x":12,"y":558},{"g":"O3","x":13,"y":556},{"g":"O3","x":14,"y":555},{"g":"O3","x":15,"y":555},{"g":"O3","x":16,"y":556},{"g":"O3","x":17,"y":558},{"g":"O3","x":18,"y":561},{"g":"O3","x":19,"y":565},{"g":"O3","x":20,"y":570},
{"g":"O5","x":1,"y":515},{"g":"O5","x":2,"y":518},{"g":"O5","x":3,"y":522},{"g":"O5","x":4,"y":520},{"g":"O5","x":4.4,"y":495},{"g":"O5","x":4.7,"y":432},{"g":"O5","x":5,"y":392},{"g":"O5","x":5.3,"y":418},{"g":"O5","x":5.7,"y":498},{"g":"O5","x":6.2,"y":545},{"g":"O5","x":7,"y":555},{"g":"O5","x":8,"y":552},{"g":"O5","x":9,"y":548},{"g":"O5","x":10,"y":545},{"g":"O5","x":11,"y":543},{"g":"O5","x":12,"y":542},{"g":"O5","x":13,"y":542},{"g":"O5","x":14,"y":543},{"g":"O5","x":15,"y":545},{"g":"O5","x":16,"y":547},{"g":"O5","x":17,"y":549},{"g":"O5","x":18,"y":551},{"g":"O5","x":19,"y":553},{"g":"O5","x":20,"y":555},
{"g":"O6","x":1,"y":555},{"g":"O6","x":2,"y":556},{"g":"O6","x":3,"y":556},{"g":"O6","x":4,"y":548},{"g":"O6","x":4.4,"y":505},{"g":"O6","x":4.7,"y":442},{"g":"O6","x":5,"y":400},{"g":"O6","x":5.3,"y":428},{"g":"O6","x":5.7,"y":508},{"g":"O6","x":6.2,"y":560},{"g":"O6","x":7,"y":570},{"g":"O6","x":8,"y":568},{"g":"O6","x":9,"y":563},{"g":"O6","x":10,"y":558},{"g":"O6","x":11,"y":554},{"g":"O6","x":12,"y":551},{"g":"O6","x":13,"y":549},{"g":"O6","x":14,"y":548},{"g":"O6","x":15,"y":548},{"g":"O6","x":16,"y":549},{"g":"O6","x":17,"y":551},{"g":"O6","x":18,"y":554},{"g":"O6","x":19,"y":557},{"g":"O6","x":20,"y":561},
{"g":"O7","x":1,"y":540},{"g":"O7","x":2,"y":545},{"g":"O7","x":3,"y":550},{"g":"O7","x":4,"y":553},{"g":"O7","x":5,"y":556},{"g":"O7","x":6,"y":560},{"g":"O7","x":6.4,"y":525},{"g":"O7","x":6.7,"y":445},{"g":"O7","x":7.05,"y":391},{"g":"O7","x":7.4,"y":432},{"g":"O7","x":7.8,"y":510},{"g":"O7","x":8.3,"y":558},{"g":"O7","x":9,"y":568},{"g":"O7","x":10,"y":568},{"g":"O7","x":11,"y":565},{"g":"O7","x":12,"y":561},{"g":"O7","x":13,"y":557},{"g":"O7","x":14,"y":554},{"g":"O7","x":15,"y":552},{"g":"O7","x":16,"y":551},{"g":"O7","x":17,"y":551},{"g":"O7","x":18,"y":552},{"g":"O7","x":19,"y":554},{"g":"O7","x":20,"y":557},
{"g":"D9","x":1,"y":520},{"g":"D9","x":2,"y":522},{"g":"D9","x":3,"y":524},{"g":"D9","x":4,"y":525},{"g":"D9","x":5,"y":524},{"g":"D9","x":6,"y":520},{"g":"D9","x":7,"y":508},{"g":"D9","x":7.5,"y":495},{"g":"D9","x":8,"y":472},{"g":"D9","x":8.5,"y":438},{"g":"D9","x":9,"y":422},{"g":"D9","x":9.5,"y":432},{"g":"D9","x":10,"y":458},{"g":"D9","x":10.5,"y":485},{"g":"D9","x":11,"y":505},{"g":"D9","x":12,"y":522},{"g":"D9","x":13,"y":530},{"g":"D9","x":14,"y":534},{"g":"D9","x":15,"y":536},{"g":"D9","x":16,"y":537},{"g":"D9","x":17,"y":537},{"g":"D9","x":18,"y":537},{"g":"D9","x":19,"y":537},{"g":"D9","x":20,"y":537},
{"g":"E10","x":1,"y":548},{"g":"E10","x":2,"y":552},{"g":"E10","x":3,"y":558},{"g":"E10","x":4,"y":564},{"g":"E10","x":5,"y":570},{"g":"E10","x":6,"y":576},{"g":"E10","x":7,"y":582},{"g":"E10","x":8,"y":588},{"g":"E10","x":9,"y":596},{"g":"E10","x":9.6,"y":622},{"g":"E10","x":10,"y":652},
{"g":"E11","x":1,"y":532},{"g":"E11","x":2,"y":536},{"g":"E11","x":3,"y":541},{"g":"E11","x":4,"y":546},{"g":"E11","x":5,"y":552},{"g":"E11","x":6,"y":558},{"g":"E11","x":7,"y":564},{"g":"E11","x":8,"y":570},{"g":"E11","x":9,"y":578},{"g":"E11","x":10,"y":588},{"g":"E11","x":10.4,"y":598},{"g":"E11","x":10.7,"y":616},{"g":"E11","x":11,"y":655}
],
"cortes": [{"corte":325},{"corte":425},{"corte":525},{"corte":595}],
"niveis": [
{"nivel":"Nível 1","x":20,"y":200},
{"nivel":"Nível 2","x":20,"y":378},
{"nivel":"Nível 3","x":20,"y":480},
{"nivel":"Nível 4","x":20,"y":549},
{"nivel":"Nível 5","x":20,"y":620}
]
},
"layer": [
{
"data": {"name": "pts"},
"mark": {"type": "circle", "color": "black", "opacity": 1, "size": 90},
"encoding": {
"x": {"field": "x", "type": "quantitative", "scale": {"domain": [0.07, 20.71], "nice": false, "zero": false},
"axis": {"values": [1,2,3,4,5,6,7,8,9,10,11,12,13,14,15,16,17,18,19,20], "title": "Sequência dos itens", "titleFontSize": 25.6, "titleFontWeight": "normal", "titleColor": "black", "titleX": 512, "titleY": 55, "titleBaseline": "alphabetic", "labelFontSize": 20.5, "labelColor": "#4D4D4D", "labelPadding": 3, "tickSize": 7, "tickWidth": 1.5, "tickColor": "#333333", "domainColor": "black", "domainWidth": 1.5, "labelFlush": false, "labelOverlap": false}},
"y": {"field": "y", "type": "quantitative", "scale": {"domain": [149.8, 680.2], "nice": false, "zero": false},
"axis": {"values": [150,200,250,300,350,400,450,500,550,600,650], "title": "PseudoB transformado para a escala (500,100)", "titleFontSize": 25.6, "titleFontWeight": "normal", "titleColor": "black", "titleX": -64, "titleY": 272, "titleBaseline": "alphabetic", "titleAngle": -90, "labelFontSize": 20.5, "labelColor": "#4D4D4D", "labelPadding": 6, "tickSize": 7, "tickWidth": 1.5, "tickColor": "#333333", "domainColor": "black", "domainWidth": 1.5, "labelFlush": false, "labelOverlap": false}}
}
},
{
"data": {"name": "lines"},
"mark": {"type": "line", "color": "#3366FF", "strokeWidth": 4, "interpolate": "natural"},
"encoding": {
"x": {"field": "x", "type": "quantitative"},
"y": {"field": "y", "type": "quantitative"},
"detail": {"field": "g", "type": "nominal"}
}
},
{
"data": {"name": "cortes"},
"mark": {"type": "rule", "strokeWidth": 1.8},
"encoding": {
"y": {"field": "corte", "type": "quantitative"},
"color": {"field": "corte", "type": "ordinal", "scale": {"domain": [325,425,525,595], "range": ["#00BFC4", "#F8766D", "#7CAE00", "#C77CFF"]}, "legend": null}
}
},
{
"data": {"name": "niveis"},
"mark": {"type": "text", "fontSize": 25.6, "color": "black", "align": "center", "baseline": "middle", "font": "Liberation Sans"},
"encoding": {
"x": {"field": "x", "type": "quantitative"},
"y": {"field": "y", "type": "quantitative"},
"text": {"field": "nivel", "type": "nominal"}
}
}
]
}
